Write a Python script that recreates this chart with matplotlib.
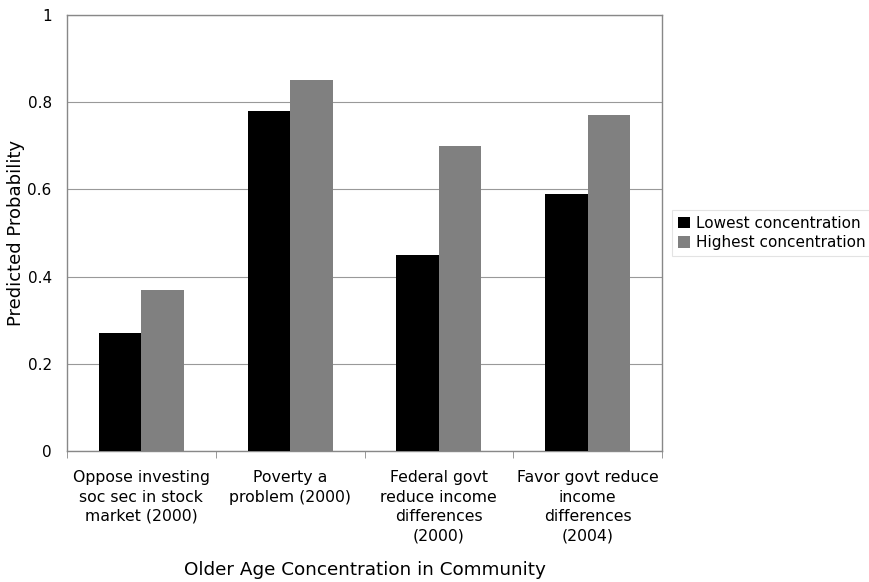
import numpy as np
import matplotlib.pyplot as plt

categories = ["Oppose investing\nsoc sec in stock\nmarket (2000)",
              "Poverty a\nproblem (2000)",
              "Federal govt\nreduce income\ndifferences\n(2000)",
              "Favor govt reduce\nincome\ndifferences\n(2004)"]
lowest = [0.27, 0.78, 0.45, 0.59]
highest = [0.37, 0.85, 0.70, 0.77]

fig = plt.figure(figsize=(8.69, 5.82), dpi=100)
ax = fig.add_axes([67/869, 1 - 451/582, (662 - 67)/869, (451 - 15)/582])

x = np.arange(len(categories))
w = 1 / 3.5
ax.bar(x - w/2, lowest, w, color='black', label='Lowest concentration', zorder=3)
ax.bar(x + w/2, highest, w, color='#808080', label='Highest concentration', zorder=3)

ax.set_xlim(-0.5, len(categories) - 0.5)
ax.set_ylim(0, 1)
ax.set_yticks([0, 0.2, 0.4, 0.6, 0.8, 1])
ax.set_yticklabels(['0', '0.2', '0.4', '0.6', '0.8', '1'])
ax.yaxis.grid(True, color='#999999', linewidth=0.8, zorder=0)
ax.tick_params(axis='y', length=0, pad=11, labelsize=11)

ax.set_xticks(x)
ax.set_xticklabels(categories, fontsize=11.3, linespacing=1.35)
ax.set_xticks(np.arange(len(categories) + 1) - 0.5, minor=True)
ax.tick_params(axis='x', which='major', length=0, pad=14)
ax.tick_params(axis='x', which='minor', length=5, color='#888888', direction='out')

for s in ax.spines.values():
    s.set_color('#888888')
    s.set_linewidth(1)

ax.set_ylabel('Predicted Probability', fontsize=13)
ax.yaxis.set_label_coords(-(67 - 25) / 595, 0.5)
ax.set_xlabel('Older Age Concentration in Community', fontsize=13.2)
ax.xaxis.set_label_coords(0.5, -(561 - 451) / 436)

leg = fig.legend(loc='center left', bbox_to_anchor=(672/869, 1 - 233/582),
                 borderaxespad=0, frameon=True, fancybox=False, fontsize=11,
                 handlelength=0.8, handleheight=0.8, handletextpad=0.4,
                 labelspacing=0.3, borderpad=0.4)
leg.get_frame().set_edgecolor('#dddddd')
leg.get_frame().set_linewidth(0.8)

fig.savefig('out.png', dpi=100)
